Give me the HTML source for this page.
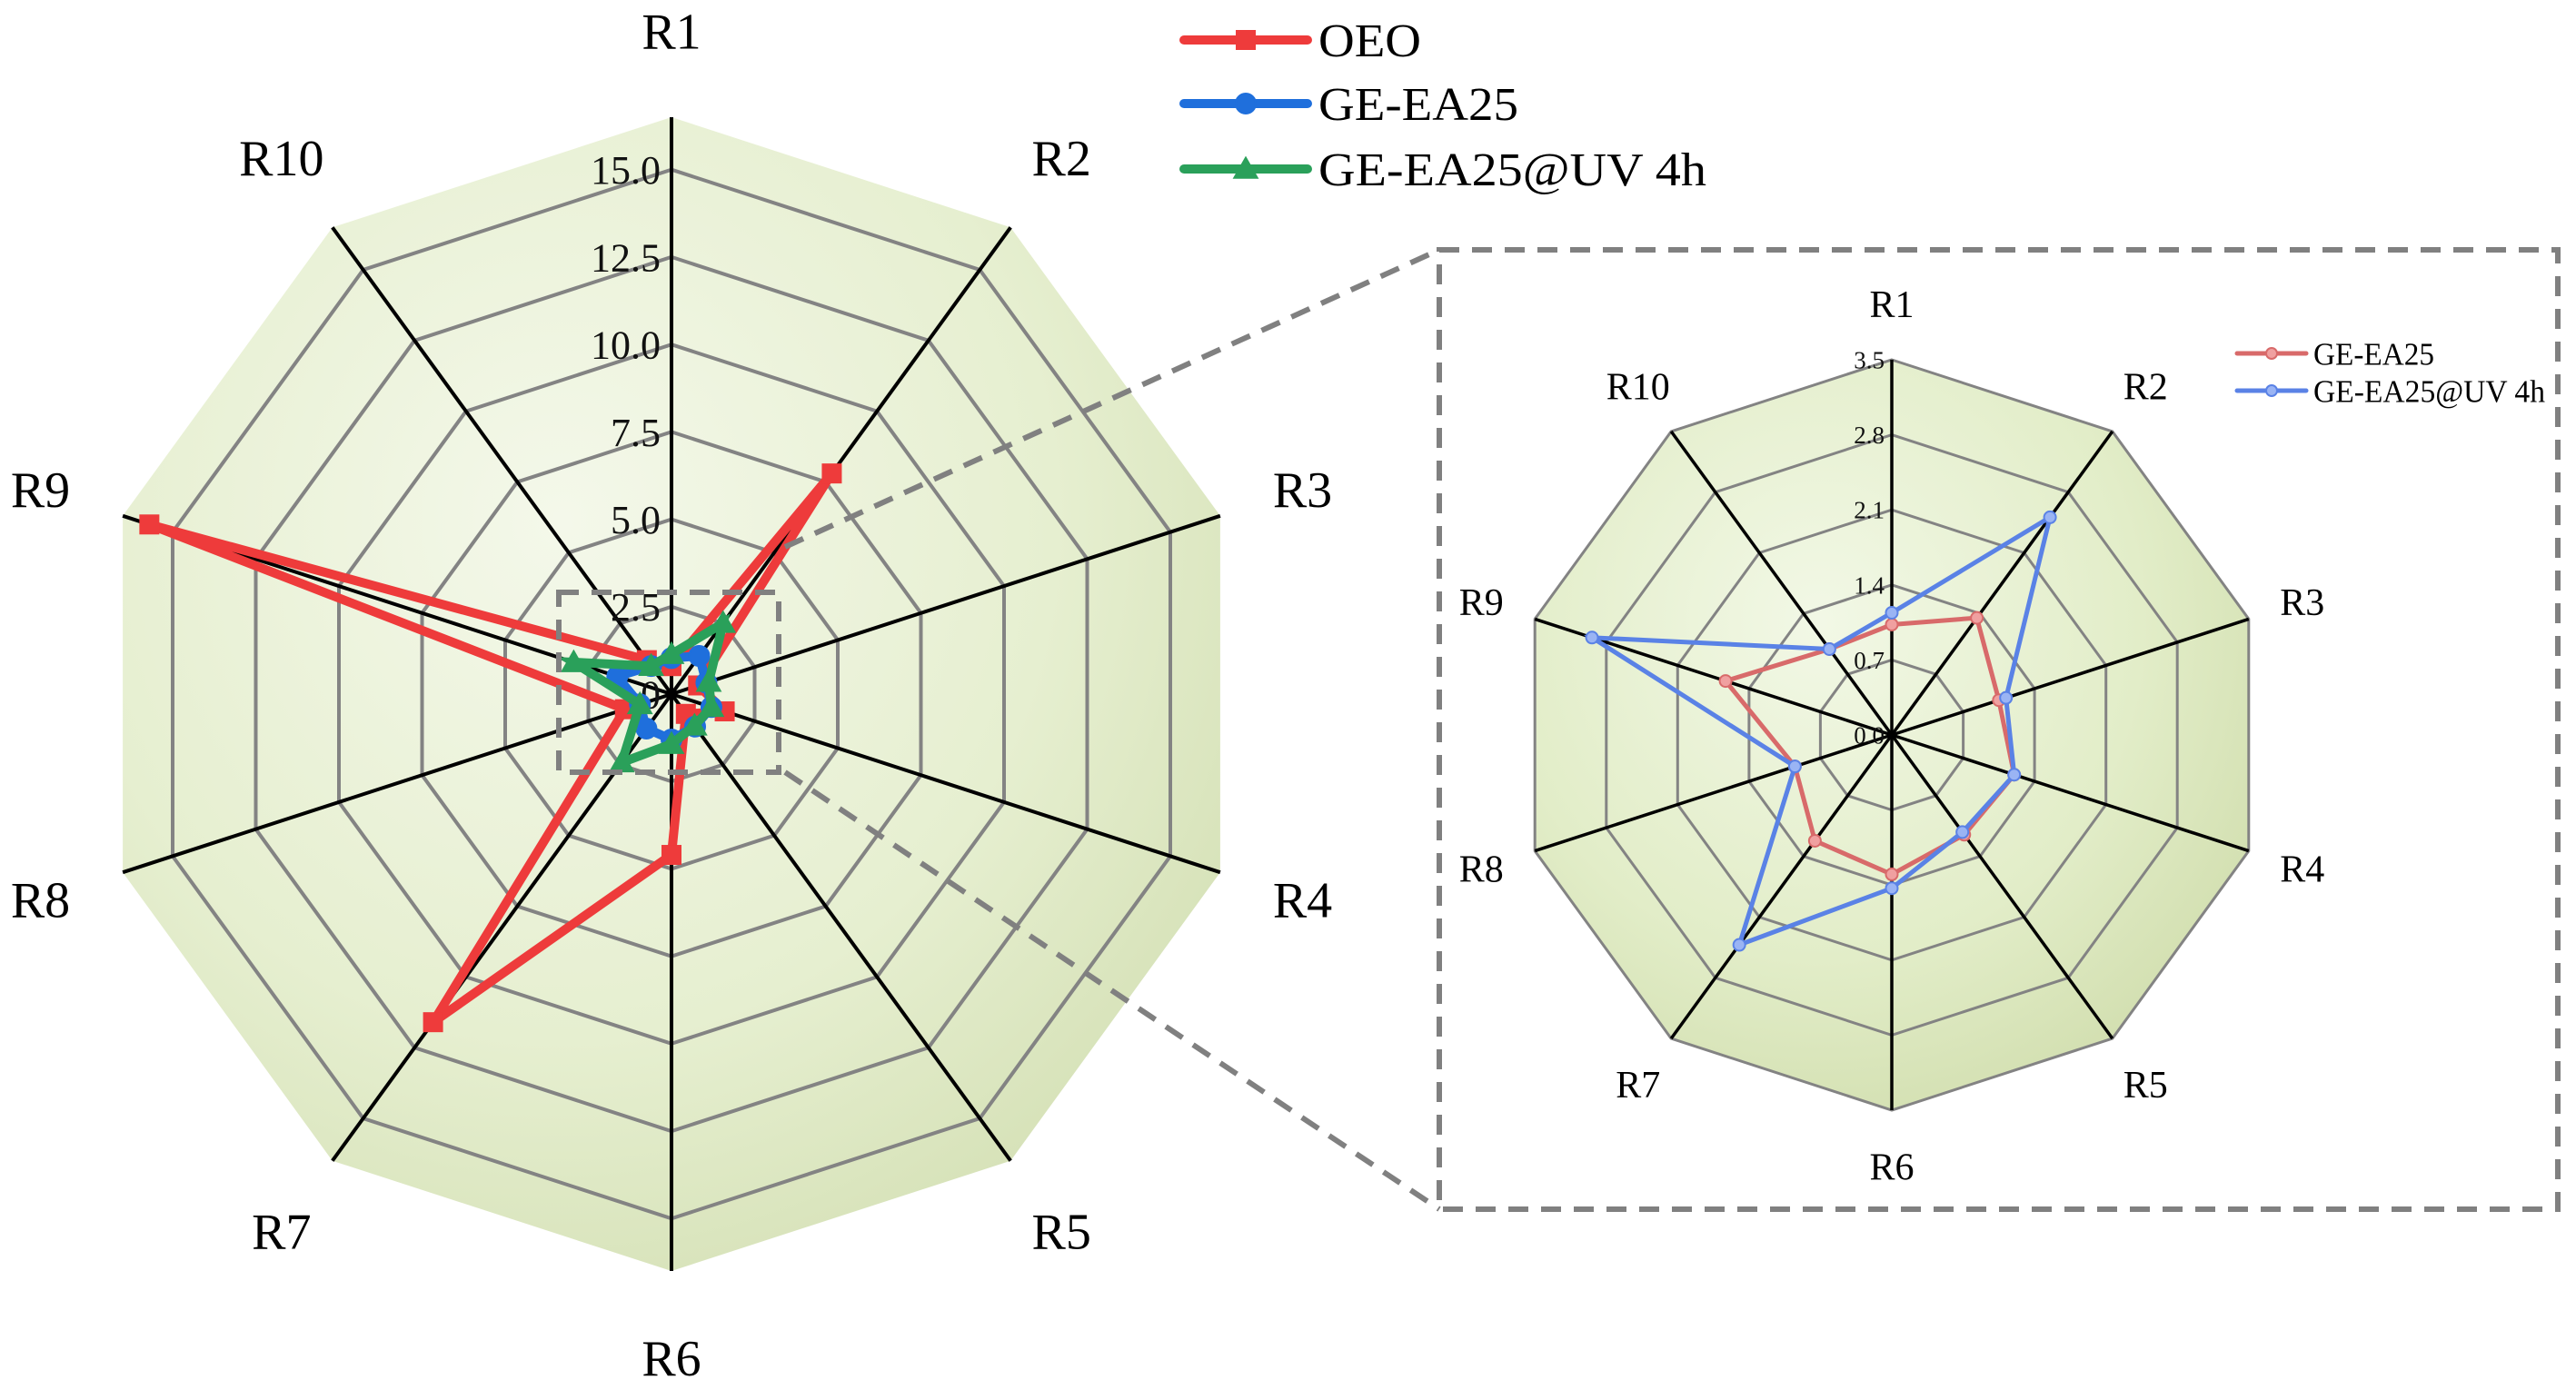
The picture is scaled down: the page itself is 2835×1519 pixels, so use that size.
<!DOCTYPE html>
<html><head><meta charset="utf-8">
<style>
html,body{margin:0;padding:0;background:#fff;}
svg{display:block;font-family:"Liberation Serif","Times New Roman","DejaVu Serif",serif;}
text{font-family:"Liberation Serif","Times New Roman","DejaVu Serif",serif;}
</style></head>
<body>
<svg id="chart" width="2835" height="1519" viewBox="0 0 2835 1519" xmlns="http://www.w3.org/2000/svg">
<defs>
<radialGradient id="bgMain" cx="0.4" cy="0.35" r="0.75">
<stop offset="0" stop-color="#f4f8ea"/><stop offset="0.6" stop-color="#e6efd0"/><stop offset="1" stop-color="#d3dfb3"/>
</radialGradient>
<radialGradient id="bgIn" cx="0.4" cy="0.35" r="0.75">
<stop offset="0" stop-color="#f2f8e6"/><stop offset="0.6" stop-color="#e2edc8"/><stop offset="1" stop-color="#cfdcab"/>
</radialGradient>
</defs>
<g id="main"></g>
<g id="inset"></g>
<g id="conn">
<rect x="615" y="652" width="242" height="198" fill="none" stroke="#808080" stroke-width="6" stroke-dasharray="22,14"/>
<line x1="864" y1="602" x2="1584" y2="275" stroke="#808080" stroke-width="6" stroke-dasharray="22,14"/>
<line x1="864" y1="850" x2="1584" y2="1331" stroke="#808080" stroke-width="6" stroke-dasharray="22,14"/>
<rect x="1584" y="275" width="1231" height="1056" fill="none" stroke="#808080" stroke-width="6" stroke-dasharray="22,14"/>
</g>
</svg>
<script>
const categories = ["R1","R2","R3","R4","R5","R6","R7","R8","R9","R10"];
const oeoValues = [0.8, 7.8, 0.8, 1.6, 0.7, 4.6, 11.6, 1.4, 15.7, 1.2];
const geValues = [1.03, 1.35, 1.05, 1.2, 1.15, 1.3, 1.22, 0.95, 1.63, 0.99];
const uvValues = [1.14, 2.51, 1.12, 1.2, 1.12, 1.43, 2.42, 0.95, 2.94, 0.99];
const mainTicks = [0, 2.5, 5, 7.5, 10, 12.5, 15];
const mainTickLabels = ["0","2.5","5.0","7.5","10.0","12.5","15.0"];
const insetTicks = [0, 0.7, 1.4, 2.1, 2.8, 3.5];
const insetTickLabels = ["0.0","0.7","1.4","2.1","2.8","3.5"];

const NS = "http://www.w3.org/2000/svg";
const FF = "'Liberation Serif','Times New Roman','DejaVu Serif',serif";
function mk(tag, attrs, parent){ const e=document.createElementNS(NS,tag); for(const k in attrs) e.setAttribute(k,attrs[k]); if(tag==="text") e.style.fontFamily=FF; parent.appendChild(e); return e; }

function radar(g, cfg){
  const n = categories.length;
  const ang = i => -Math.PI/2 + i*2*Math.PI/n;
  const pt = (i, v) => { const r = v/cfg.max*cfg.R; return [cfg.cx + r*Math.cos(ang(i)), cfg.cy + r*Math.sin(ang(i))]; };
  const poly = v => categories.map((c,i)=>pt(i,v).map(x=>x.toFixed(1)).join(",")).join(" ");
  const bg = mk("polygon",{points:poly(cfg.max),fill:cfg.fill},g);
  
  
  cfg.rings.forEach(v=>{ if(v<=0) return;
    const r = mk("polygon",{points:poly(v),fill:"none",stroke:"#838383","stroke-width":cfg.ringW},g);
    
    
  });
  categories.forEach((c,i)=>{
    const [x,y]=pt(i,cfg.max);
    const s = mk("line",{x1:cfg.cx,y1:cfg.cy,x2:x.toFixed(1),y2:y.toFixed(1),stroke:"#000","stroke-width":cfg.spokeW},g);
    
    
    const [lx,ly]=pt(i,cfg.max*1.15);
    const t = mk("text",{x:lx.toFixed(1),y:(ly+cfg.labelSize*0.35).toFixed(1),"text-anchor":"middle","font-size":cfg.labelSize,fill:"#000"},g);
    t.textContent=c;
    
    
  });
  cfg.rings.forEach((v,k)=>{
    const y = cfg.cy - v/cfg.max*cfg.R;
    const t = mk("text",{x:cfg.cx-cfg.tickGap,y:(y+cfg.tickSize*0.35).toFixed(1),"text-anchor":"end","font-size":cfg.tickSize,fill:"#111"},g);
    t.textContent=cfg.tickLabels[k];
    
    
  });
  cfg.series.forEach(s=>{
    const pts = categories.map((c,i)=>pt(i,s.values[i]).map(x=>x.toFixed(1)).join(",")).join(" ");
    const sg = mk("g",{},g);
    
    
    const pl = mk("polygon",{points:pts,fill:"none",stroke:s.color,"stroke-width":s.w,"stroke-linejoin":"miter"},sg);
    
    
    categories.forEach((c,i)=>{
      const [x,y]=pt(i,s.values[i]); let m; const z=s.size;
      if(s.marker==="square") m=mk("rect",{x:x-z/2,y:y-z/2,width:z,height:z,fill:s.color},sg);
      else if(s.marker==="tri") m=mk("polygon",{points:`${x},${y-z*0.6} ${x-z*0.6},${y+z*0.45} ${x+z*0.6},${y+z*0.45}`,fill:s.color},sg);
      else m=mk("circle",{cx:x,cy:y,r:z/2,fill:s.mfill||s.color,stroke:s.color,"stroke-width":2},sg);
      
      
    });
  });
}

radar(document.getElementById("main"),{cx:739,cy:764,R:635,max:16.5,rings:mainTicks,tickLabels:mainTickLabels,fill:"url(#bgMain)",ringW:4,spokeW:4,labelSize:56,tickSize:44,tickGap:12,
  series:[{id:"oeo",values:oeoValues,color:"#ee3b3b",w:10,marker:"square",size:22},
          {id:"ge-ea25",values:geValues,color:"#1f6fdc",w:10,marker:"circle",size:22},
          {id:"ge-ea25-uv",values:uvValues,color:"#2aa05a",w:10,marker:"tri",size:24}]});
radar(document.getElementById("inset"),{cx:2082,cy:809,R:413,max:3.5,rings:insetTicks,tickLabels:insetTickLabels,fill:"url(#bgIn)",ringW:3,spokeW:3.5,labelSize:42,tickSize:27,tickGap:8,
  series:[{id:"inset-ge-ea25",values:geValues,color:"#d86a6a",w:5,marker:"circle",size:13,mfill:"#f0a0a0"},
          {id:"inset-ge-ea25-uv",values:uvValues,color:"#5a82e6",w:5,marker:"circle",size:13,mfill:"#9ab4f4"}]});

function legend(parent, items, x1, x2, tx, ys, size, w){
  items.forEach((it,k)=>{
    const g = mk("g",{},parent);
    
    
    const y=ys[k];
    mk("line",{x1:x1,y1:y,x2:x2,y2:y,stroke:it.color,"stroke-width":w,"stroke-linecap":"round"},g);
    const mx=(x1+x2)/2, z=it.z;
    if(it.marker==="square") mk("rect",{x:mx-z/2,y:y-z/2,width:z,height:z,fill:it.color},g);
    else if(it.marker==="tri") mk("polygon",{points:`${mx},${y-z*0.6} ${mx-z*0.6},${y+z*0.45} ${mx+z*0.6},${y+z*0.45}`,fill:it.color},g);
    else mk("circle",{cx:mx,cy:y,r:z/2,fill:it.mfill||it.color,stroke:it.color,"stroke-width":2},g);
    const t = mk("text",{x:tx,y:y+size*0.35,"font-size":size,fill:"#000",textLength:it.len,lengthAdjust:"spacingAndGlyphs"},g);
    t.textContent=it.label;
  });
}
const svg=document.getElementById("chart");
const lg1 = mk("g",{},svg);


legend(lg1,[{id:"oeo",label:"OEO",color:"#ee3b3b",marker:"square",z:22,len:113},
            {id:"ge-ea25",label:"GE-EA25",color:"#1f6fdc",marker:"circle",z:22,len:220},
            {id:"ge-ea25-uv",label:"GE-EA25@UV 4h",color:"#2aa05a",marker:"tri",z:24,len:427}],
       1303,1439,1451,[44,114,186],52,10);
const lg2 = mk("g",{},svg);


legend(lg2,[{id:"inset-ge-ea25",label:"GE-EA25",color:"#d86a6a",marker:"circle",z:12,mfill:"#f0a0a0",len:133},
            {id:"inset-ge-ea25-uv",label:"GE-EA25@UV 4h",color:"#5a82e6",marker:"circle",z:12,mfill:"#9ab4f4",len:255}],
       2462,2538,2546,[389,430],35,5);
</script>
</body></html>
